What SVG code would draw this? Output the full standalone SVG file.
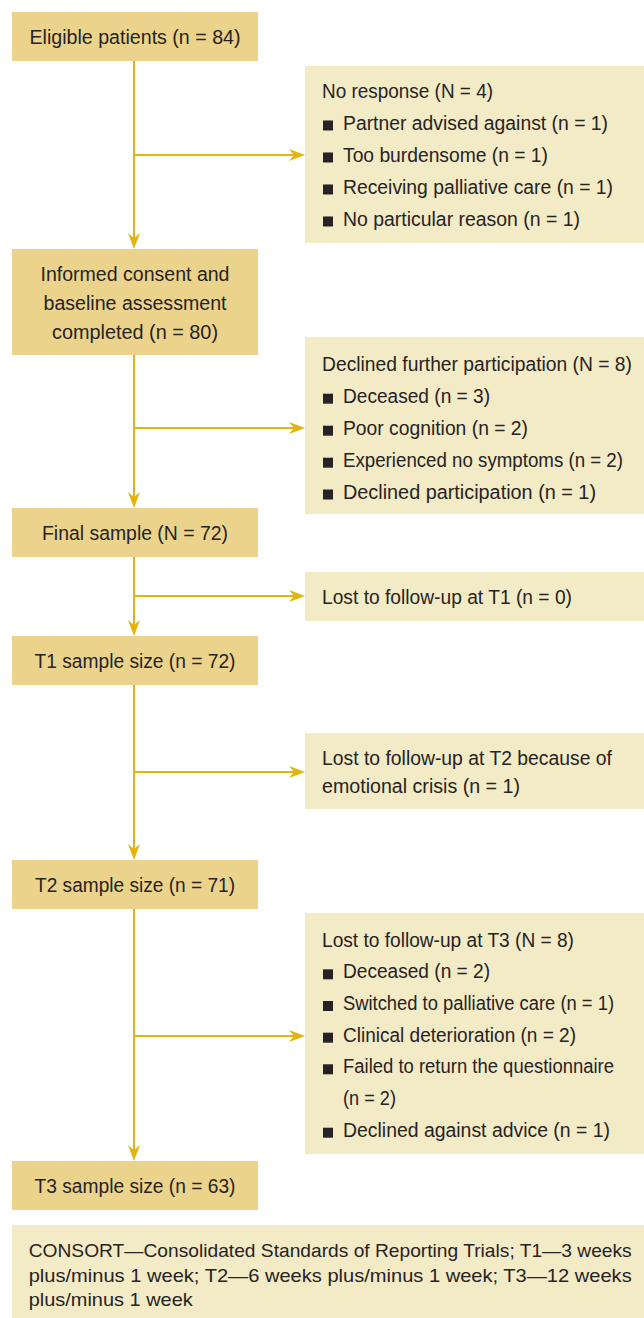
<svg xmlns="http://www.w3.org/2000/svg" width="644" height="1318" viewBox="0 0 644 1318">
<style>
.main{fill:#ecd38c}
.side{fill:#f3eac6}
text{font-family:"Liberation Sans Narrow","Liberation Sans",Arial,sans-serif;font-size:20px;fill:#262324}
.c{text-anchor:middle}
.ft{font-size:19px}
.b{fill:#262324}
.conn{stroke:#e2b40c;stroke-width:2;fill:none}
</style>
<defs>
<marker id="ah" markerUnits="userSpaceOnUse" markerWidth="16" markerHeight="12" refX="10" refY="6" orient="auto" viewBox="0 0 16 12">
<path d="M0,0 L16,6 L0,12 L5,6 Z" fill="#e2b40c"/>
</marker>
</defs>
<rect width="644" height="1318" fill="#ffffff"/>
<g id="connectors">
<path class="conn" d="M134,61 V243" marker-end="url(#ah)"/>
<path class="conn" d="M134,155 H299" marker-end="url(#ah)"/>
<path class="conn" d="M134,355 V502" marker-end="url(#ah)"/>
<path class="conn" d="M134,428 H299" marker-end="url(#ah)"/>
<path class="conn" d="M134,557 V630" marker-end="url(#ah)"/>
<path class="conn" d="M134,596 H299" marker-end="url(#ah)"/>
<path class="conn" d="M134,685 V854" marker-end="url(#ah)"/>
<path class="conn" d="M134,772 H299" marker-end="url(#ah)"/>
<path class="conn" d="M134,909 V1155" marker-end="url(#ah)"/>
<path class="conn" d="M134,1036 H299" marker-end="url(#ah)"/>
</g>
<g id="n1">
<rect class="main" x="12" y="12" width="246" height="49"/>
<text class="c" x="135" y="44" textLength="211" lengthAdjust="spacingAndGlyphs">Eligible patients (n = 84)</text>
</g>
<g id="r1">
<rect class="side" x="305" y="66" width="339" height="177"/>
<text x="322" y="97.5" textLength="171" lengthAdjust="spacingAndGlyphs">No response (N = 4)</text>
<rect class="b" x="323" y="120.5" width="10" height="10"/>
<text x="343" y="129.5" textLength="265" lengthAdjust="spacingAndGlyphs">Partner advised against (n = 1)</text>
<rect class="b" x="323" y="152.5" width="10" height="10"/>
<text x="343" y="161.5" textLength="205" lengthAdjust="spacingAndGlyphs">Too burdensome (n = 1)</text>
<rect class="b" x="323" y="184.5" width="10" height="10"/>
<text x="343" y="193.5" textLength="270" lengthAdjust="spacingAndGlyphs">Receiving palliative care (n = 1)</text>
<rect class="b" x="323" y="216.5" width="10" height="10"/>
<text x="343" y="225.5" textLength="237" lengthAdjust="spacingAndGlyphs">No particular reason (n = 1)</text>
</g>
<g id="n2">
<rect class="main" x="12" y="249" width="246" height="106"/>
<text class="c" x="135" y="280.7" textLength="189" lengthAdjust="spacingAndGlyphs">Informed consent and</text>
<text class="c" x="135" y="310" textLength="183" lengthAdjust="spacingAndGlyphs">baseline assessment</text>
<text class="c" x="135" y="339.3" textLength="166" lengthAdjust="spacingAndGlyphs">completed (n = 80)</text>
</g>
<g id="r2">
<rect class="side" x="305" y="337" width="339" height="177"/>
<text x="322" y="370.7" textLength="310" lengthAdjust="spacingAndGlyphs">Declined further participation (N = 8)</text>
<rect class="b" x="323" y="393.7" width="10" height="10"/>
<text x="343" y="402.7" textLength="147" lengthAdjust="spacingAndGlyphs">Deceased (n = 3)</text>
<rect class="b" x="323" y="425.7" width="10" height="10"/>
<text x="343" y="434.7" textLength="185" lengthAdjust="spacingAndGlyphs">Poor cognition (n = 2)</text>
<rect class="b" x="323" y="457.7" width="10" height="10"/>
<text x="343" y="466.7" textLength="280" lengthAdjust="spacingAndGlyphs">Experienced no symptoms (n = 2)</text>
<rect class="b" x="323" y="489.5" width="10" height="10"/>
<text x="343" y="498.5" textLength="253" lengthAdjust="spacingAndGlyphs">Declined participation (n = 1)</text>
</g>
<g id="n3">
<rect class="main" x="12" y="508" width="246" height="49"/>
<text class="c" x="135" y="540" textLength="186" lengthAdjust="spacingAndGlyphs">Final sample (N = 72)</text>
</g>
<g id="r3">
<rect class="side" x="305" y="572" width="339" height="49"/>
<text x="322" y="604.3" textLength="250" lengthAdjust="spacingAndGlyphs">Lost to follow-up at T1 (n = 0)</text>
</g>
<g id="n4">
<rect class="main" x="12" y="636" width="246" height="49"/>
<text class="c" x="135" y="667.7" textLength="201" lengthAdjust="spacingAndGlyphs">T1 sample size (n = 72)</text>
</g>
<g id="r4">
<rect class="side" x="305" y="733" width="339" height="76"/>
<text x="322" y="765" textLength="290" lengthAdjust="spacingAndGlyphs">Lost to follow-up at T2 because of</text>
<text x="322" y="793.3" textLength="198" lengthAdjust="spacingAndGlyphs">emotional crisis (n = 1)</text>
</g>
<g id="n5">
<rect class="main" x="12" y="860" width="246" height="49"/>
<text class="c" x="135" y="891.7" textLength="200" lengthAdjust="spacingAndGlyphs">T2 sample size (n = 71)</text>
</g>
<g id="r5">
<rect class="side" x="305" y="913" width="339" height="241"/>
<text x="322" y="946.7" textLength="252" lengthAdjust="spacingAndGlyphs">Lost to follow-up at T3 (N = 8)</text>
<rect class="b" x="323" y="969.3" width="10" height="10"/>
<text x="343" y="978.3" textLength="147" lengthAdjust="spacingAndGlyphs">Deceased (n = 2)</text>
<rect class="b" x="323" y="1001" width="10" height="10"/>
<text x="343" y="1010" textLength="271" lengthAdjust="spacingAndGlyphs">Switched to palliative care (n = 1)</text>
<rect class="b" x="323" y="1032.7" width="10" height="10"/>
<text x="343" y="1041.7" textLength="233" lengthAdjust="spacingAndGlyphs">Clinical deterioration (n = 2)</text>
<rect class="b" x="323" y="1064.3" width="10" height="10"/>
<text x="343" y="1073.3" textLength="271" lengthAdjust="spacingAndGlyphs">Failed to return the questionnaire</text>
<text x="343" y="1105" textLength="53" lengthAdjust="spacingAndGlyphs">(n = 2)</text>
<rect class="b" x="323" y="1127.7" width="10" height="10"/>
<text x="343" y="1136.7" textLength="267" lengthAdjust="spacingAndGlyphs">Declined against advice (n = 1)</text>
</g>
<g id="n6">
<rect class="main" x="12" y="1161" width="246" height="49"/>
<text class="c" x="135" y="1193.3" textLength="201" lengthAdjust="spacingAndGlyphs">T3 sample size (n = 63)</text>
</g>
<g id="footer">
<rect class="side" x="12" y="1225" width="632" height="93"/>
<text class="ft" x="28.7" y="1256.7" textLength="603" lengthAdjust="spacingAndGlyphs">CONSORT—Consolidated Standards of Reporting Trials; T1—3 weeks</text>
<text class="ft" x="28.7" y="1281.7" textLength="603" lengthAdjust="spacingAndGlyphs">plus/minus 1 week; T2—6 weeks plus/minus 1 week; T3—12 weeks</text>
<text class="ft" x="28.7" y="1306" textLength="164" lengthAdjust="spacingAndGlyphs">plus/minus 1 week</text>
</g>
</svg>
